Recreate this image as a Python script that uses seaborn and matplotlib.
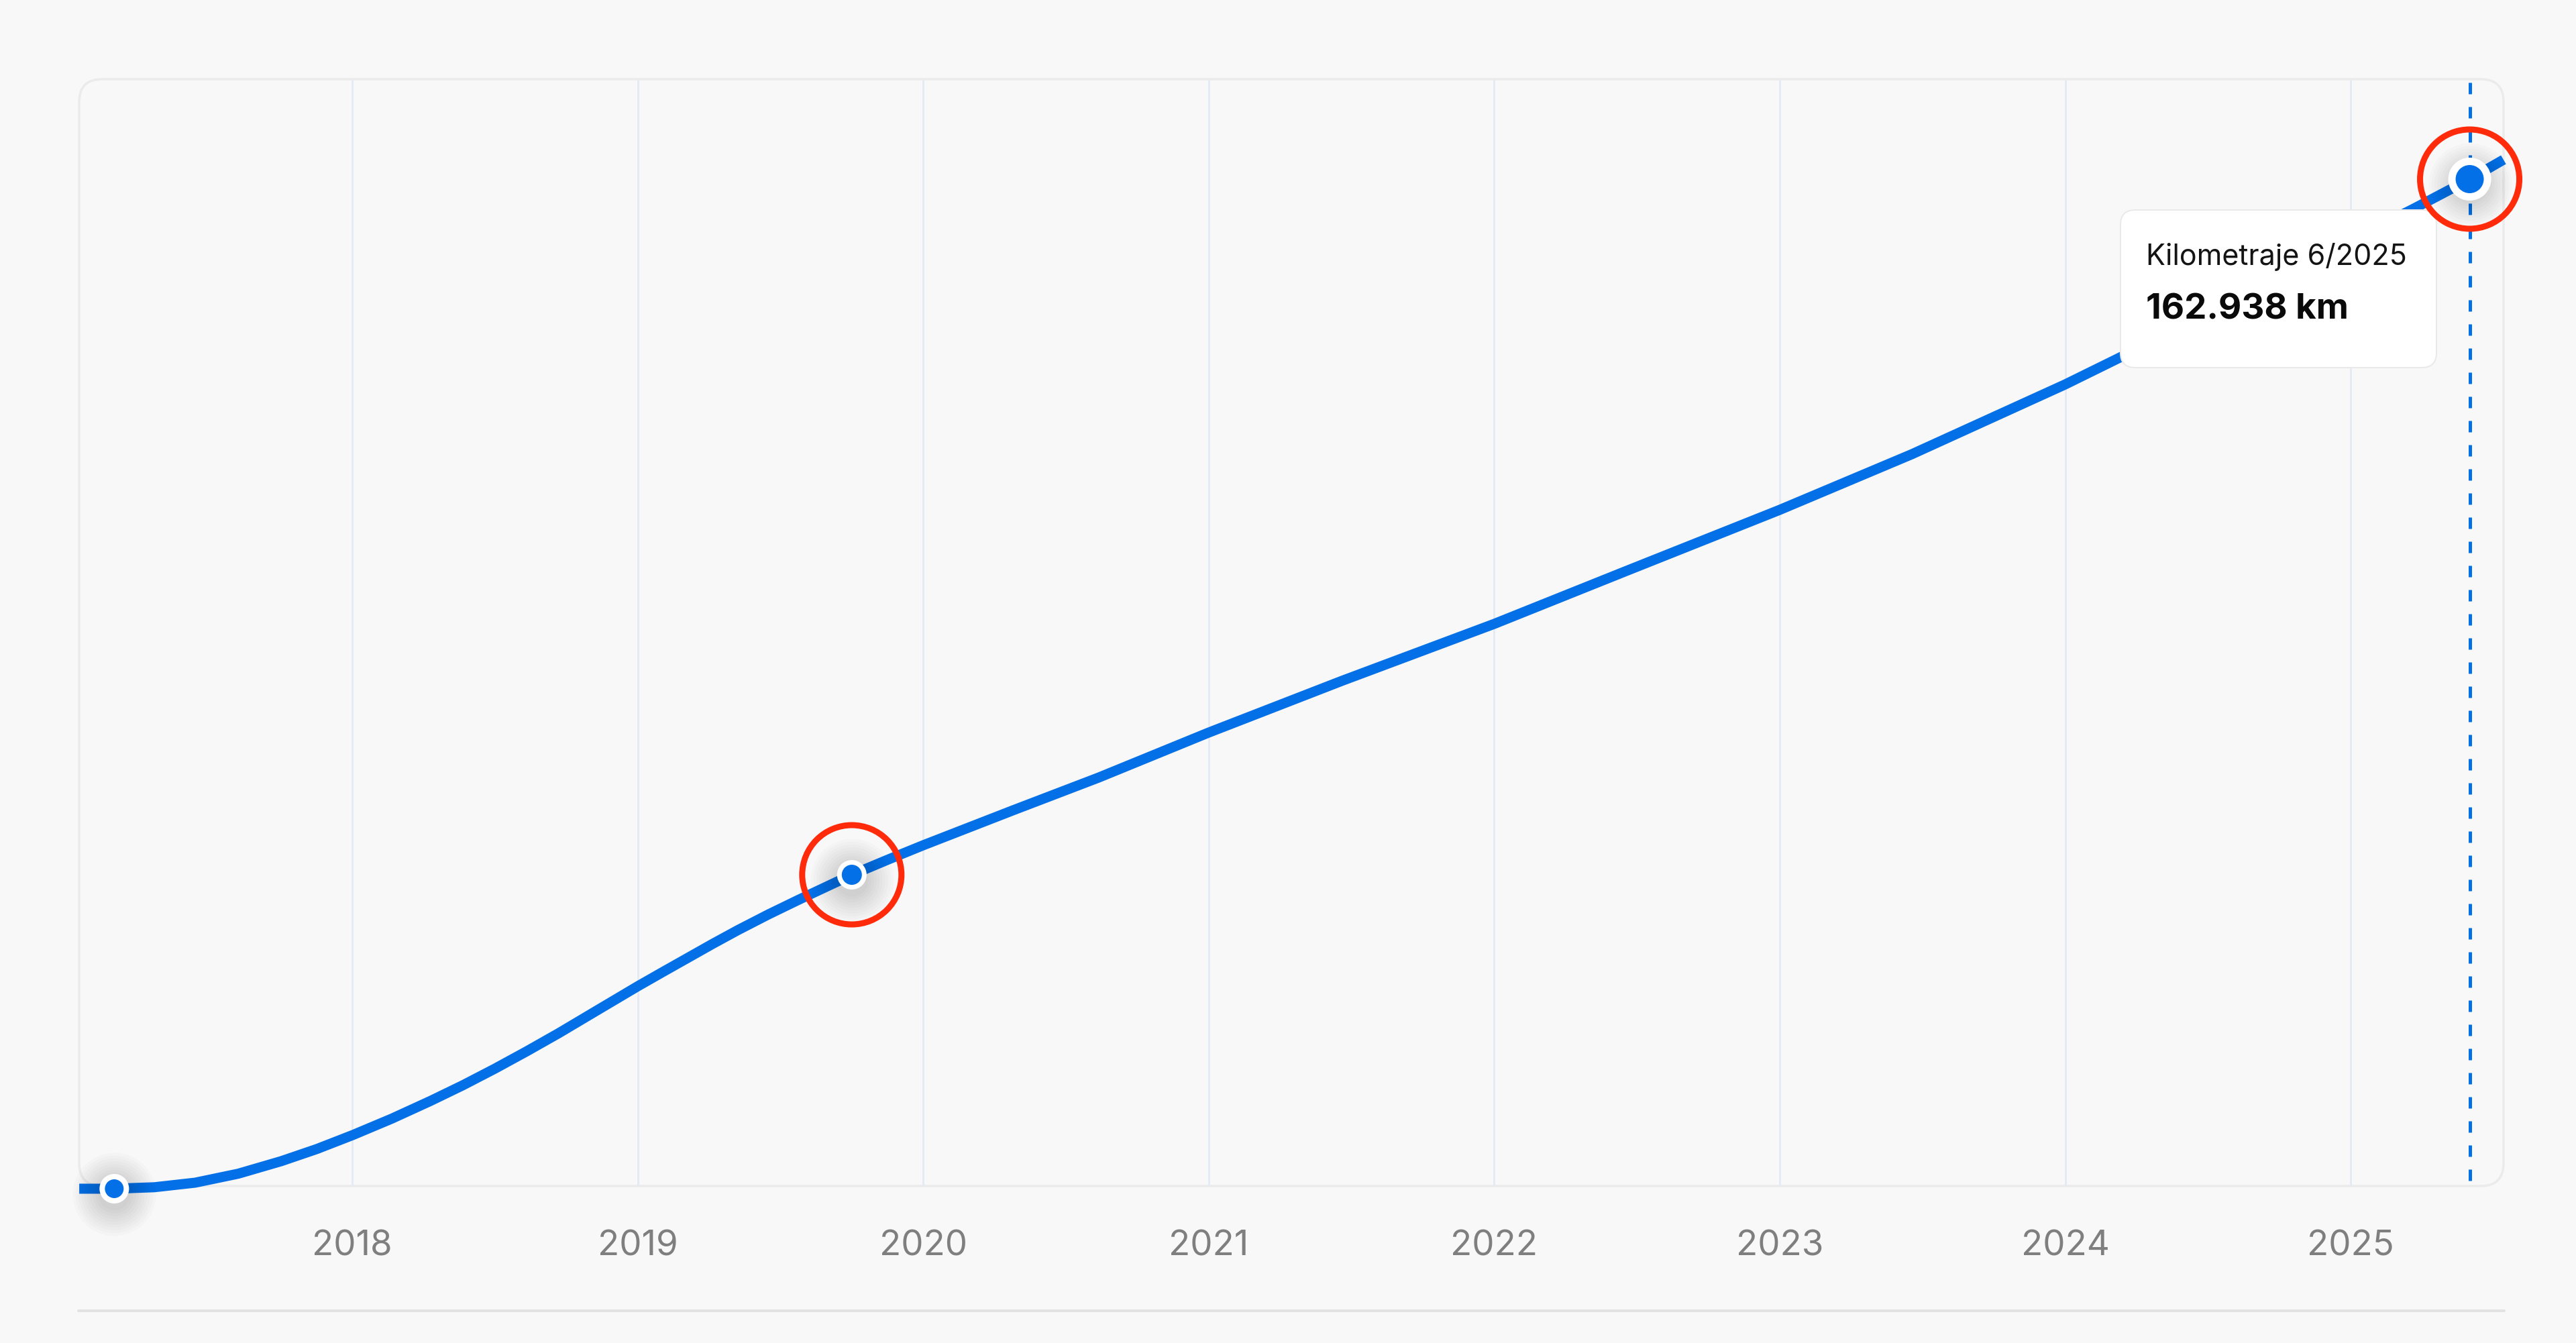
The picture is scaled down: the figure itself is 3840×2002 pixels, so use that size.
import numpy as np
import matplotlib
matplotlib.use("Agg")
import matplotlib.pyplot as plt
import seaborn as sns
from matplotlib.patches import FancyBboxPatch
from matplotlib.lines import Line2D
from matplotlib.transforms import IdentityTransform, offset_copy

# kilometraje (anio decimal -> km acumulados)
curve_year = [2017.044, 2017.167, 2017.307, 2017.450, 2017.601, 2017.751, 2017.877,
              2018.002, 2018.139, 2018.275, 2018.388, 2018.500, 2018.612, 2018.724,
              2018.862, 2019.001, 2019.088, 2019.175, 2019.263, 2019.351, 2019.458,
              2019.565, 2019.659, 2019.750, 2019.876, 2020.000, 2020.314, 2020.615,
              2021.000, 2021.466, 2022.000, 2022.469, 2023.000, 2023.463, 2024.000,
              2024.191, 2025.225, 2025.417, 2025.535]
curve_km = [0, 0, 238, 974, 2425, 4439, 6420,
            8661, 11314, 14182, 16705, 19379, 22194, 25116,
            28896, 32695, 34980, 37241, 39528, 41735, 44270,
            46660, 48697, 50666, 53103, 55429, 61059, 66363,
            73617, 81953, 91155, 99816, 109559, 118545, 129804,
            134134, 158276, 162938, 166071]

# puntos marcados (inicio, medio, ultimo)
point_year = [2017 + 2 / 12, 2019 + 9 / 12, 2025 + 5 / 12]
point_km = [0, 50666, 162938]
highlighted = [1, 2]

tick_years = [2018, 2019, 2020, 2021, 2022, 2023, 2024, 2025]
tick_labels = [str(y) for y in tick_years]

tooltip_month = 6
tooltip_year = 2025
tooltip_km = 162938

# --- estilo ---
W, H, DPI = 3840, 2002, 200
PT = 72 / DPI          # px -> pt
BLUE = "#0470E8"
RED = "#FF2B0A"
BG = "#F8F8F8"

sns.set_theme(style="white")
plt.rcParams["font.family"] = ["Inter", "DejaVu Sans"]

fig = plt.figure(figsize=(W / DPI, H / DPI), dpi=DPI)
fig.patch.set_facecolor(BG)

# panel (px desde arriba)
P_LEFT, P_RIGHT, P_TOP, P_BOTTOM = 118, 3732, 118, 1768
ax = fig.add_axes([P_LEFT / W, (H - P_BOTTOM) / H, (P_RIGHT - P_LEFT) / W, (P_BOTTOM - P_TOP) / H])
ax.set_facecolor("none")

# escala: 2018 en x=525 px, 425.6 px por anio; 0 km en y=1772 px
X2018, YEAR_PX = 525, 425.6
Y0, KM_PX = 1772, 162938 / (1772 - 267)
ax.set_xlim(2018 - (X2018 - P_LEFT) / YEAR_PX, 2018 + (P_RIGHT - X2018) / YEAR_PX)
ax.set_ylim((Y0 - P_BOTTOM) * KM_PX, (Y0 - P_TOP) * KM_PX)

panel = FancyBboxPatch((P_LEFT, H - P_BOTTOM), P_RIGHT - P_LEFT, P_BOTTOM - P_TOP,
                       boxstyle="round,pad=0,rounding_size=34", transform=IdentityTransform(),
                       facecolor="none", edgecolor="#EBEBEB", linewidth=3.5 * PT, zorder=-1)
fig.add_artist(panel)

# lineas verticales por anio
for y in tick_years:
    ax.axvline(y, color="#E4EBF5", linewidth=3 * PT, zorder=0.5)

# linea discontinua del punto seleccionado
ax.axvline(point_year[-1], ymin=0.005, ymax=1, color=BLUE, linewidth=5 * PT,
           linestyle=(0, (3.4, 3.8)), zorder=1.5)

# curva
sns.lineplot(x=curve_year, y=curve_km, ax=ax, color=BLUE, linewidth=15 * PT,
             sort=False, estimator=None, zorder=2)
curve = ax.lines[-1]
curve.set_clip_on(False)
curve.set_solid_joinstyle("round")
curve.set_solid_capstyle("butt")

# sombras suaves bajo los puntos
shadow_tr = offset_copy(ax.transData, fig=fig, x=0, y=-8, units="dots")
for r in np.linspace(24, 62, 10):
    ax.scatter(point_year, point_km, s=(2 * r * PT) ** 2, color="black", alpha=0.017,
               linewidths=0, transform=shadow_tr, zorder=3, clip_on=False)

# tooltip
tip = FancyBboxPatch((3161, H - 548), 471, 235, boxstyle="round,pad=0,rounding_size=22",
                     transform=IdentityTransform(), facecolor="white", edgecolor="#E9E9E9",
                     linewidth=2 * PT, zorder=3.5, clip_on=False)
ax.add_patch(tip)
ax.text(3199, H - 395, f"Kilometraje {tooltip_month}/{tooltip_year}", transform=IdentityTransform(),
        fontsize=15.5, color="#141414", ha="left", va="baseline", zorder=3.6)
ax.text(3199, H - 475, f"{tooltip_km:,} km".replace(",", "."), transform=IdentityTransform(),
        fontsize=19, fontweight="bold", color="#0A0A0A", ha="left", va="baseline", zorder=3.6)

# puntos
marker_r = [18, 18.5, 26.5]
marker_edge = [8, 7, 11]
ax.scatter(point_year, point_km, s=[(2 * r * PT) ** 2 for r in marker_r], color=BLUE,
           edgecolors="white", linewidths=[e * PT for e in marker_edge], zorder=4, clip_on=False)

# circulos rojos
ax.scatter([point_year[i] for i in highlighted], [point_km[i] for i in highlighted],
           s=(2 * 74 * PT) ** 2, facecolors="none", edgecolors=RED, linewidths=9 * PT,
           zorder=5, clip_on=False)

# ejes
ax.set_xticks(tick_years)
ax.set_xticklabels(tick_labels)
ax.set_yticks([])
ax.tick_params(axis="x", length=0, pad=65 * PT, labelsize=19, labelcolor="#7F7F7F")
for s in ax.spines.values():
    s.set_visible(False)
ax.grid(False)

# separador inferior
fig.add_artist(Line2D([117, 3733], [H - 1954, H - 1954], transform=IdentityTransform(),
                      color="#E2E2E2", linewidth=4 * PT))

fig.savefig("out.png", dpi=DPI, facecolor=fig.get_facecolor())
